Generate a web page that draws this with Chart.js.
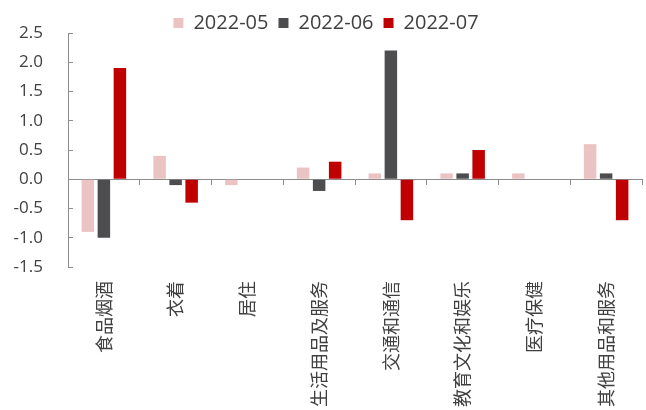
<!DOCTYPE html>
<html>
<head>
<meta charset="utf-8">
<script src="https://cdn.jsdelivr.net/npm/chart.js@4.4.1/dist/chart.umd.min.js"></script>
<style>
  html, body { margin: 0; padding: 0; background: #fff; }
  #wrap { width: 646px; height: 410px; }
</style>
</head>
<body>
<div id="wrap"><canvas id="cpi"></canvas></div>
<script>
// CPI 分项环比
const categories = ['食品烟酒', '衣着', '居住', '生活用品及服务', '交通和通信', '教育文化和娱乐', '医疗保健', '其他用品和服务'];
const seriesNames = ['2022-05', '2022-06', '2022-07'];
const may = [-0.9, 0.4, -0.1, 0.2, 0.1, 0.1, 0.1, 0.6];
const june = [-1.0, -0.1, 0.0, -0.2, 2.2, 0.1, 0.0, 0.1];
const july = [1.9, -0.4, 0.0, 0.3, -0.7, 0.5, 0.0, -0.7];
const yTicks = { min: -1.5, max: 2.5, step: 0.5 };

const colors = ['#EBC3C3', '#4D4D4F', '#C00000'];
const axisGray = '#8C8C8C';
const textGray = '#404040';

const makeSet = (label, data, color) => ({
  label,
  data,
  backgroundColor: color,
  borderWidth: 0,
  barPercentage: 0.78,
  categoryPercentage: 0.67,
});

// keep the legend strip short so the plot starts right under it
const legendHeight = {
  id: 'legendHeight',
  beforeLayout(chart) {
    const lg = chart.legend;
    if (!lg || lg._fixedFit) return;
    const fit = lg.fit;
    lg.fit = function () {
      fit.call(this);
      this.height = 30;
    };
    lg._fixedFit = true;
  },
};

new Chart(document.getElementById('cpi'), {
  type: 'bar',
  data: {
    labels: categories,
    datasets: [
      makeSet(seriesNames[0], may, colors[0]),
      makeSet(seriesNames[1], june, colors[1]),
      makeSet(seriesNames[2], july, colors[2]),
    ],
  },
  plugins: [legendHeight],
  options: {
    responsive: true,
    maintainAspectRatio: false,
    animation: false,
    layout: { padding: { left: 10, right: 4, top: 3, bottom: 0 } },
    plugins: {
      tooltip: { enabled: false },
      legend: {
        position: 'top',
        labels: {
          color: textGray,
          font: { family: 'Open Sans', size: 20 },
          boxWidth: 10,
          boxHeight: 10,
          padding: 10,
        },
      },
    },
    scales: {
      // zero line with category separators
      x: {
        type: 'category',
        position: { y: 0 },
        offset: true,
        grid: {
          offset: true,
          drawOnChartArea: false,
          color: axisGray,
          tickLength: 5,
        },
        border: { display: true, color: axisGray, width: 1 },
        ticks: { display: false },
        afterFit: (scale) => { scale.height = 0; },
      },
      // category names below the plot
      xLabels: {
        type: 'category',
        position: 'bottom',
        labels: categories,
        offset: true,
        grid: { display: false, drawTicks: false, offset: true },
        border: { display: false },
        ticks: {
          color: textGray,
          font: { family: 'Noto Sans CJK SC', size: 18 },
          minRotation: 90,
          maxRotation: 90,
          autoSkip: false,
          padding: 14,
        },
        afterFit: (scale) => { scale.height = 143; },
      },
      y: {
        min: yTicks.min,
        max: yTicks.max,
        grid: {
          drawOnChartArea: false,
          color: axisGray,
          tickLength: -5,
        },
        border: { display: true, color: axisGray, width: 1 },
        ticks: {
          stepSize: yTicks.step,
          color: textGray,
          // small lineHeight so the top label doesn't push the legend down
          font: { family: 'Open Sans', size: 17, lineHeight: 0.35 },
          padding: 30,
          callback: (v) => Number(v).toFixed(1),
        },
        afterFit: (scale) => { scale.width = 58; },
      },
    },
  },
});
</script>
</body>
</html>
